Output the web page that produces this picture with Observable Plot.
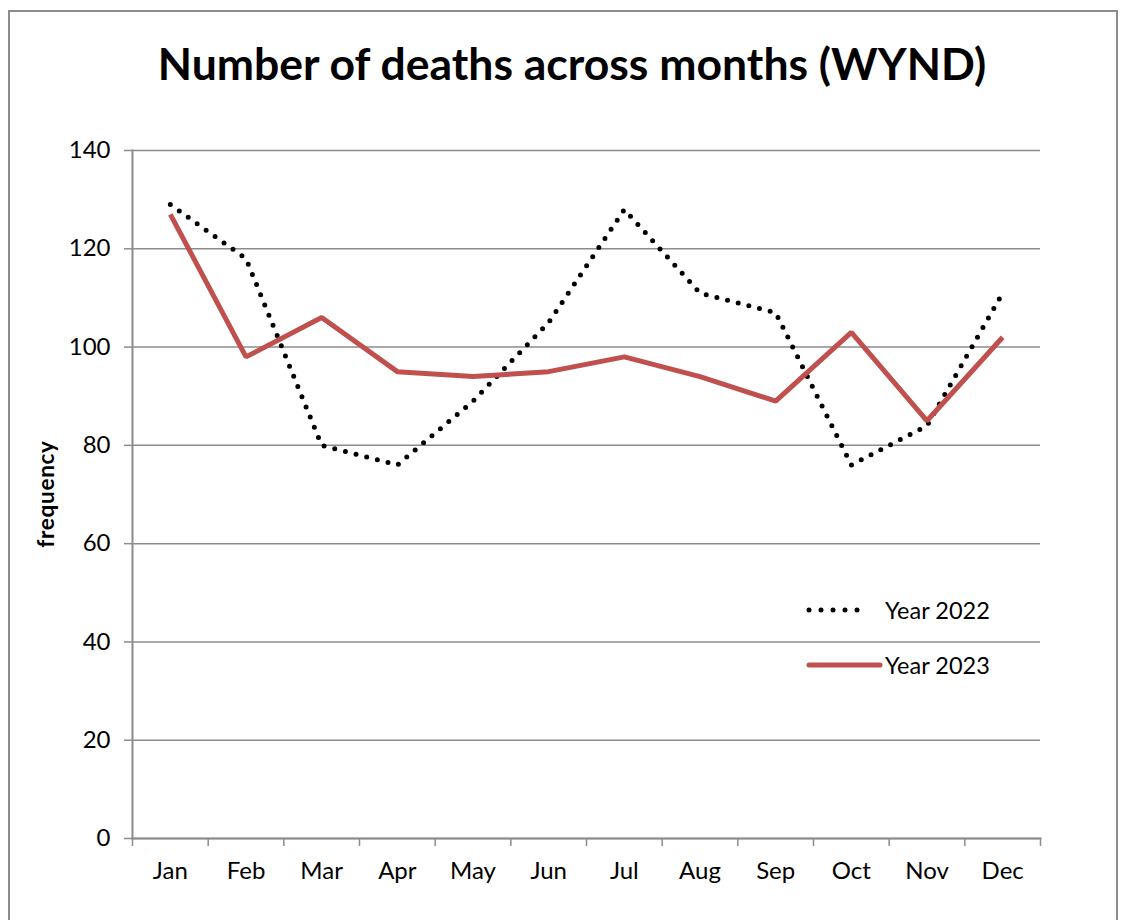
<!DOCTYPE html>
<html>
<head>
<meta charset="utf-8">
<script src="https://cdn.jsdelivr.net/npm/d3@7"></script>
<script src="https://cdn.jsdelivr.net/npm/@observablehq/plot@0.6"></script>
<style>
  html, body { margin: 0; padding: 0; background: #fff; }
  body { width: 1130px; height: 920px; position: relative; overflow: hidden; font-family: Lato, "Open Sans", sans-serif; }
  #frame { position: absolute; left: 8px; top: 10px; width: 1110px; height: 940px; border: 2px solid #8c8c8c; box-sizing: border-box; pointer-events: none; }
  #title { height: 120px; display: flex; align-items: center; justify-content: center; font-weight: bold; font-size: 44.5px; color: #000; padding-left: 14px; box-sizing: border-box; padding-top: 4px; }
  #chart { position: relative; }
  #ylabel { position: absolute; left: 45px; top: 494px; transform: translate(-50%, -50%) rotate(-90deg); font-weight: bold; font-size: 22.5px; letter-spacing: 0.7px; white-space: nowrap; }
  #legend { position: absolute; left: 806px; top: 582px; font-size: 23.5px; }
  .lg { display: flex; align-items: center; height: 55px; }
  .lg svg { flex: none; }
</style>
</head>
<body>
<div id="title">Number of deaths across months (WYND)</div>
<div id="chart"></div>
<div id="ylabel">frequency</div>
<div id="legend"></div>
<div id="frame"></div>
<script>
const months = ["Jan","Feb","Mar","Apr","May","Jun","Jul","Aug","Sep","Oct","Nov","Dec"];
const year2022 = [129, 118, 80, 76, 89, 105, 128, 111, 107, 76, 84, 111];
const year2023 = [127, 98, 106, 95, 94, 95, 98, 94, 89, 103, 85, 102];
const yTicks = [0, 20, 40, 60, 80, 100, 120, 140];
const seriesNames = ["Year 2022", "Year 2023"];

const idx = d3.range(months.length);
const boundaries = d3.range(months.length + 1).map(i => i - 0.5);
const data2022 = idx.map(i => ({i, v: year2022[i]}));
const data2023 = idx.map(i => ({i, v: year2023[i]}));

const red = "#C0504D";
const gray = "#8c8c8c";

const chart = Plot.plot({
  width: 1130,
  height: 800,
  marginTop: 30,
  marginBottom: 82,
  marginLeft: 132,
  marginRight: 90,
  style: { fontFamily: "Lato, 'Open Sans', sans-serif", fontSize: "24px", color: "#000", background: "transparent", overflow: "visible" },
  x: { type: "linear", domain: [-0.5, months.length - 0.5] },
  y: { domain: [0, 140] },
  marks: [
    Plot.gridY(yTicks, { stroke: gray, strokeOpacity: 1, strokeWidth: 1.5 }),
    Plot.axisY(yTicks, { tickSize: 8, tickPadding: 14, stroke: gray, strokeWidth: 1.5, label: null, fontSize: 24 }),
    Plot.frame({ anchor: "left", stroke: gray, strokeWidth: 2 }),
    Plot.frame({ anchor: "bottom", stroke: gray, strokeWidth: 2 }),
    Plot.axisX(boundaries, { tickSize: 8, tickFormat: () => "", stroke: gray, strokeWidth: 1.5, label: null }),
    Plot.axisX(idx, { tickSize: 0, tickPadding: 23, tickFormat: i => months[i], label: null, fontSize: 24 }),
    Plot.lineY(data2022, { x: "i", y: "v", stroke: "#000", strokeWidth: 5, strokeDasharray: "0 11", strokeLinecap: "round", strokeLinejoin: "round" }),
    Plot.lineY(data2023, { x: "i", y: "v", stroke: red, strokeWidth: 5, strokeLinecap: "butt", strokeLinejoin: "miter" })
  ]
});
document.getElementById("chart").appendChild(chart);

const legend = document.getElementById("legend");
legend.innerHTML =
  `<div class="lg"><svg width="79" height="10"><line x1="3" y1="5" x2="63" y2="5" stroke="#000" stroke-width="5" stroke-dasharray="0 12" stroke-linecap="round"/></svg><span>${seriesNames[0]}</span></div>` +
  `<div class="lg"><svg width="79" height="10"><line x1="3" y1="5" x2="74" y2="5" stroke="${red}" stroke-width="5" stroke-linecap="round"/></svg><span>${seriesNames[1]}</span></div>`;
</script>
</body>
</html>
